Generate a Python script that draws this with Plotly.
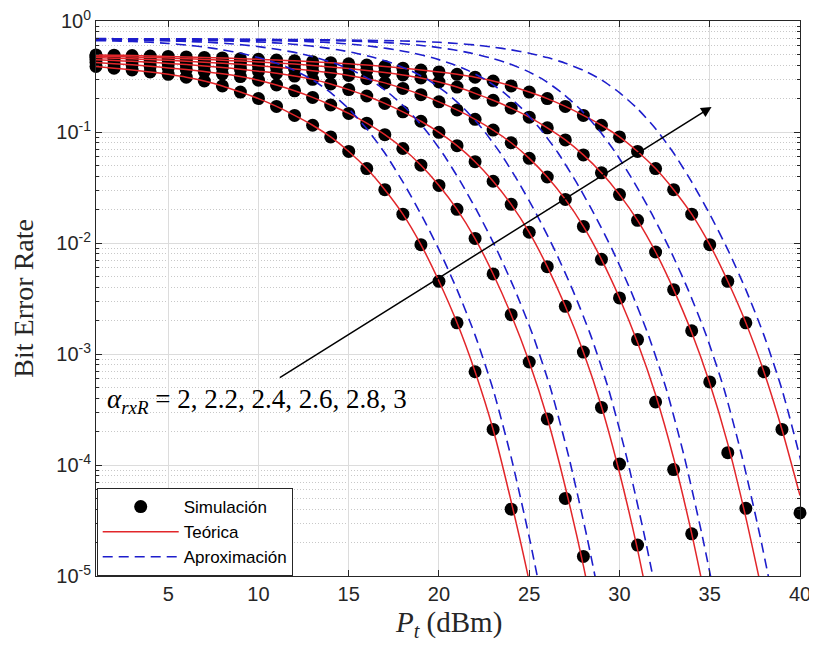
import math
import plotly.graph_objects as go

# ---------------- data ----------------
alphas = ["2", "2.2", "2.4", "2.6", "2.8", "3"]
x_ticks = [5, 10, 15, 20, 25, 30, 35, 40]
y_ticks = [1e-5, 1e-4, 1e-3, 1e-2, 1e-1, 1]
y_ticklabels = ["10<sup>-5</sup>", "10<sup>-4</sup>", "10<sup>-3</sup>",
                "10<sup>-2</sup>", "10<sup>-1</sup>", "10<sup>0</sup>"]

# Simulation (dots at Pt = 1, 2, 3, ... dBm)
sim_1 = [0.389, 0.376, 0.362, 0.348, 0.331, 0.312, 0.288, 0.260, 0.229, 0.200, 0.170, 0.141,
         0.115, 0.0902, 0.0668, 0.0468, 0.0302, 0.0182, 0.00966, 0.00452, 0.00191, 0.000692,
         0.000209, 4.0e-5]
sim_2 = [0.423, 0.413, 0.403, 0.391, 0.378, 0.365, 0.350, 0.334, 0.316, 0.293, 0.265, 0.235,
         0.205, 0.175, 0.147, 0.120, 0.0946, 0.0710, 0.0502, 0.0330, 0.0201, 0.0110, 0.00526,
         0.00226, 0.000847, 0.000260, 5.0e-5, 1.5e-5]
sim_3 = [0.448, 0.441, 0.433, 0.425, 0.415, 0.405, 0.394, 0.381, 0.368, 0.353, 0.338, 0.319,
         0.298, 0.271, 0.241, 0.211, 0.181, 0.152, 0.125, 0.0993, 0.0753, 0.0540, 0.0360,
         0.0223, 0.0125, 0.00612, 0.00269, 0.00104, 0.000330, 1.02e-4, 1.9e-5]
sim_4 = [0.468, 0.462, 0.456, 0.449, 0.442, 0.434, 0.426, 0.417, 0.407, 0.396, 0.384, 0.370,
         0.356, 0.341, 0.323, 0.302, 0.277, 0.247, 0.217, 0.187, 0.158, 0.130, 0.104, 0.0800,
         0.0579, 0.0393, 0.0247, 0.0141, 0.00713, 0.00320, 0.00135, 0.000370, 9.1e-5, 2.4e-5]
sim_5 = [0.483, 0.479, 0.474, 0.469, 0.463, 0.457, 0.450, 0.443, 0.436, 0.428, 0.419, 0.409,
         0.398, 0.386, 0.373, 0.359, 0.344, 0.327, 0.307, 0.282, 0.254, 0.223, 0.193, 0.164,
         0.136, 0.109, 0.0849, 0.0622, 0.0429, 0.0273, 0.0160, 0.00830, 0.00380, 0.00162,
         0.000560, 1.29e-4, 4.07e-5]
sim_6 = [0.495, 0.492, 0.489, 0.484, 0.480, 0.475, 0.470, 0.465, 0.458, 0.452, 0.445, 0.438,
         0.430, 0.421, 0.411, 0.401, 0.389, 0.376, 0.362, 0.348, 0.331, 0.312, 0.288, 0.260,
         0.229, 0.200, 0.170, 0.141, 0.115, 0.0902, 0.0668, 0.0468, 0.0302, 0.0182, 0.00966,
         0.00452, 0.00191, 0.000692, 0.000209, 3.7e-5]

# Theory (red curves, same Pt grid, continued below the axis floor)
teo_1 = [0.389, 0.376, 0.362, 0.348, 0.331, 0.312, 0.288, 0.260, 0.229, 0.200, 0.170, 0.141,
         0.115, 0.0902, 0.0668, 0.0468, 0.0302, 0.0182, 0.00966, 0.00452, 0.00191, 0.000692,
         0.000209, 4.68e-5, 8.9e-6, 1.26e-6]
teo_2 = [0.423, 0.413, 0.403, 0.391, 0.378, 0.365, 0.350, 0.334, 0.316, 0.293, 0.265, 0.235,
         0.205, 0.175, 0.147, 0.120, 0.0946, 0.0710, 0.0502, 0.0330, 0.0201, 0.01096, 0.00526,
         0.00226, 0.000847, 0.000265, 6.31e-5, 1.24e-5, 1.86e-6]
teo_3 = [0.448, 0.441, 0.433, 0.425, 0.415, 0.405, 0.394, 0.381, 0.368, 0.353, 0.338, 0.319,
         0.298, 0.271, 0.241, 0.211, 0.181, 0.152, 0.125, 0.0993, 0.0753, 0.0540, 0.0360,
         0.0223, 0.01245, 0.00612, 0.00269, 0.00104, 0.000337, 8.51e-5, 1.73e-5, 2.75e-6]
teo_4 = [0.468, 0.462, 0.456, 0.449, 0.442, 0.434, 0.426, 0.417, 0.407, 0.396, 0.384, 0.370,
         0.356, 0.341, 0.323, 0.302, 0.277, 0.247, 0.217, 0.187, 0.158, 0.130, 0.104, 0.0800,
         0.0579, 0.0393, 0.0247, 0.01413, 0.00713, 0.00320, 0.00127, 0.000429, 0.000115,
         2.41e-5, 4.07e-6]
teo_5 = [0.483, 0.479, 0.474, 0.469, 0.463, 0.457, 0.450, 0.443, 0.436, 0.428, 0.419, 0.409,
         0.398, 0.386, 0.373, 0.359, 0.344, 0.327, 0.307, 0.282, 0.254, 0.223, 0.193, 0.164,
         0.136, 0.109, 0.0849, 0.0622, 0.0429, 0.0273, 0.0160, 0.00830, 0.00380, 0.00156,
         0.000545, 0.000155, 3.36e-5, 6.03e-6]
teo_6 = [0.495, 0.492, 0.489, 0.484, 0.480, 0.475, 0.470, 0.465, 0.458, 0.452, 0.445, 0.438,
         0.430, 0.421, 0.411, 0.401, 0.389, 0.376, 0.362, 0.348, 0.331, 0.312, 0.288, 0.260,
         0.229, 0.200, 0.170, 0.141, 0.115, 0.0902, 0.0668, 0.0468, 0.0302, 0.0182, 0.00966,
         0.00452, 0.00191, 0.000692, 0.000209, 5.3e-5]

# Approximation (blue dashed curves)
apx_x_1 = [1, 2, 3, 4, 5, 6, 7, 8, 9, 10, 11, 12, 13, 14, 15, 16, 17, 18, 19, 20, 21, 22, 23,
           24, 25, 26]
apx_y_1 = [0.665, 0.661, 0.653, 0.643, 0.628, 0.608, 0.582, 0.550, 0.513, 0.468, 0.417, 0.359,
           0.295, 0.226, 0.162, 0.107, 0.0646, 0.0355, 0.0182, 0.00871, 0.00380, 0.00148,
           0.000479, 0.000117, 2.24e-5, 3.55e-6]
apx_x_2 = [1, 2.2, 3.2, 4.2, 5.2, 6.2, 7.2, 8.2, 9.2, 10.2, 11.2, 12.2, 13.2, 14.2, 15.2, 16.2,
           17.2, 18.2, 19.2, 20.2, 21.2, 22.2, 23.2, 24.2, 25.2, 26.2, 27.2, 28.2, 29.2]
apx_y_2 = [0.677, 0.673, 0.670, 0.665, 0.661, 0.653, 0.643, 0.628, 0.608, 0.582, 0.550, 0.513,
           0.468, 0.417, 0.359, 0.295, 0.226, 0.162, 0.107, 0.0646, 0.0355, 0.0182, 0.00871,
           0.00380, 0.00148, 0.000479, 0.000117, 2.24e-5, 3.55e-6]
apx_x_3 = [1, 1.4, 2.4, 3.4, 4.4, 5.4, 6.4, 7.4, 8.4, 9.4, 10.4, 11.4, 12.4, 13.4, 14.4, 15.4,
           16.4, 17.4, 18.4, 19.4, 20.4, 21.4, 22.4, 23.4, 24.4, 25.4, 26.4, 27.4, 28.4, 29.4,
           30.4, 31.4, 32.4]
apx_y_3 = [0.683, 0.682, 0.681, 0.679, 0.676, 0.673, 0.670, 0.665, 0.661, 0.653, 0.643, 0.628,
           0.608, 0.582, 0.550, 0.513, 0.468, 0.417, 0.359, 0.295, 0.226, 0.162, 0.107, 0.0646,
           0.0355, 0.0182, 0.00871, 0.00380, 0.00148, 0.000479, 0.000117, 2.24e-5, 3.55e-6]
apx_x_4 = [1, 1.6, 2.6, 3.6, 4.6, 5.6, 6.6, 7.6, 8.6, 9.6, 10.6, 11.6, 12.6, 13.6, 14.6, 15.6,
           16.6, 17.6, 18.6, 19.6, 20.6, 21.6, 22.6, 23.6, 24.6, 25.6, 26.6, 27.6, 28.6, 29.6,
           30.6, 31.6, 32.6, 33.6, 34.6, 35.6]
apx_y_4 = [0.688, 0.687, 0.685, 0.684, 0.682, 0.681, 0.679, 0.676, 0.673, 0.670, 0.665, 0.661,
           0.653, 0.643, 0.628, 0.608, 0.582, 0.550, 0.513, 0.468, 0.417, 0.359, 0.295, 0.226,
           0.162, 0.107, 0.0646, 0.0355, 0.0182, 0.00871, 0.00380, 0.00148, 0.000479, 0.000117,
           2.24e-5, 3.55e-6]
apx_x_5 = [1, 1.8, 2.8, 3.8, 4.8, 5.8, 6.8, 7.8, 8.8, 9.8, 10.8, 11.8, 12.8, 13.8, 14.8, 15.8,
           16.8, 17.8, 18.8, 19.8, 20.8, 21.8, 22.8, 23.8, 24.8, 25.8, 26.8, 27.8, 28.8, 29.8,
           30.8, 31.8, 32.8, 33.8, 34.8, 35.8, 36.8, 37.8, 38.8]
apx_y_5 = [0.691, 0.690, 0.690, 0.689, 0.687, 0.685, 0.684, 0.682, 0.681, 0.679, 0.676, 0.673,
           0.670, 0.665, 0.661, 0.653, 0.643, 0.628, 0.608, 0.582, 0.550, 0.513, 0.468, 0.417,
           0.359, 0.295, 0.226, 0.162, 0.107, 0.0646, 0.0355, 0.0182, 0.00871, 0.00380, 0.00148,
           0.000479, 0.000117, 2.24e-5, 3.55e-6]
apx_x_6 = [1, 2, 3, 4, 5, 6, 7, 8, 9, 10, 11, 12, 13, 14, 15, 16, 17, 18, 19, 20, 21, 22, 23,
           24, 25, 26, 27, 28, 29, 30, 31, 32, 33, 34, 35, 36, 37, 38, 39, 40, 41]
apx_y_6 = [0.695, 0.693, 0.693, 0.692, 0.690, 0.690, 0.689, 0.687, 0.685, 0.684, 0.682, 0.681,
           0.679, 0.676, 0.673, 0.670, 0.665, 0.661, 0.653, 0.643, 0.628, 0.608, 0.582, 0.550,
           0.513, 0.468, 0.417, 0.359, 0.295, 0.226, 0.162, 0.107, 0.0646, 0.0355, 0.0182,
           0.00871, 0.00380, 0.00148, 0.000479, 0.000117, 2.24e-5]

# arrow of the annotation (data coordinates: Pt, BER)
arrow_start = (11.1, 6.0e-4)
arrow_end = (35.1, 0.168)
label_pos = (1.5, 3.8e-4)

sims = [sim_1, sim_2, sim_3, sim_4, sim_5, sim_6]
teos = [teo_1, teo_2, teo_3, teo_4, teo_5, teo_6]
apxs = [(apx_x_1, apx_y_1), (apx_x_2, apx_y_2), (apx_x_3, apx_y_3),
        (apx_x_4, apx_y_4), (apx_x_5, apx_y_5), (apx_x_6, apx_y_6)]

RED = "#e2262a"
BLUE = "#1d1dcc"
AX = "#262626"
SANS = "Liberation Sans, Arial, sans-serif"
SERIF = "Liberation Serif, Times New Roman, serif"

fig = go.Figure()

for i, s in enumerate(sims):
    fig.add_trace(go.Scatter(
        x=list(range(1, len(s) + 1)), y=s, mode="markers",
        marker=dict(color="black", size=13, line=dict(width=0)),
        cliponaxis=False, name="Simulación", legendgroup="sim",
        showlegend=(i == 0), legendrank=1))

for i, t in enumerate(teos):
    fig.add_trace(go.Scatter(
        x=list(range(1, len(t) + 1)), y=t, mode="lines",
        line=dict(color=RED, width=1.5, shape="spline", smoothing=0.6),
        name="Teórica", legendgroup="teo", showlegend=(i == 0), legendrank=2))

for i, (ax_, ay_) in enumerate(apxs):
    fig.add_trace(go.Scatter(
        x=ax_, y=ay_, mode="lines",
        line=dict(color=BLUE, width=1.6, dash="10px,6px", shape="spline", smoothing=0.6),
        name="Aproximación", legendgroup="apx", showlegend=(i == 0), legendrank=3))

fig.add_annotation(
    x=arrow_end[0], y=math.log10(arrow_end[1]), xref="x", yref="y",
    ax=arrow_start[0], ay=math.log10(arrow_start[1]), axref="x", ayref="y",
    showarrow=True, arrowhead=2, arrowsize=1.4, arrowwidth=1.5, arrowcolor="black",
    text="")
fig.add_annotation(
    x=label_pos[0], y=math.log10(label_pos[1]), xref="x", yref="y",
    text="<i>α</i><sub><i>rxR</i></sub> = 2, 2.2, 2.4, 2.6, 2.8, 3",
    showarrow=False, xanchor="left", yanchor="middle",
    font=dict(family=SERIF, size=27, color="black"))

# axis titles
fig.add_annotation(
    x=0.5, y=-0.087, xref="paper", yref="paper", showarrow=False,
    xanchor="center", yanchor="middle",
    text="<i>P</i><sub><i>t</i></sub> (dBm)",
    font=dict(family=SERIF, size=29, color=AX))
fig.add_annotation(
    x=-0.1035, y=0.5, xref="paper", yref="paper", showarrow=False,
    xanchor="center", yanchor="middle", textangle=-90,
    text="Bit Error Rate",
    font=dict(family=SERIF, size=28, color=AX))

minor_vals = [m * 10 ** e for e in range(-5, 0) for m in range(2, 10)]

# the page adds an 8px body margin: the figure is sized/margined to compensate
fig.update_layout(
    width=809, height=648,
    margin=dict(l=88, r=17, t=13, b=80, autoexpand=False),
    paper_bgcolor="white", plot_bgcolor="white",
    font=dict(family=SANS, size=16, color=AX),
    showlegend=True,
    legend=dict(x=0.001, y=0.0, xanchor="left", yanchor="bottom",
                bgcolor="white", bordercolor=AX, borderwidth=1,
                font=dict(family=SANS, size=17, color="black"),
                itemwidth=76, tracegroupgap=0, traceorder="normal"),
    xaxis=dict(
        range=[1, 40], tickmode="array", tickvals=x_ticks, automargin=False,
        ticks="inside", ticklen=6, tickcolor=AX, showline=True, linecolor=AX,
        linewidth=1, mirror="ticks", showgrid=True, gridcolor="#dcdcdc", gridwidth=1,
        zeroline=False, ticklabeloverflow="allow",
        tickfont=dict(family=SANS, size=20, color=AX)),
    yaxis=dict(
        type="log", range=[-5, 0], tickmode="array", tickvals=y_ticks, automargin=False,
        ticktext=y_ticklabels, ticks="inside", ticklen=6, tickcolor=AX,
        showline=True, linecolor=AX, linewidth=1, mirror="ticks",
        showgrid=True, gridcolor="#dcdcdc", gridwidth=1, zeroline=False,
        ticklabeloverflow="allow",
        tickfont=dict(family=SANS, size=20, color=AX),
        minor=dict(tickmode="array", tickvals=minor_vals, ticks="inside", ticklen=3,
                   tickcolor=AX, showgrid=True, gridcolor="#c8c8c8", griddash="1px,2px",
                   gridwidth=1)),
)

fig.write_html("out.html")
